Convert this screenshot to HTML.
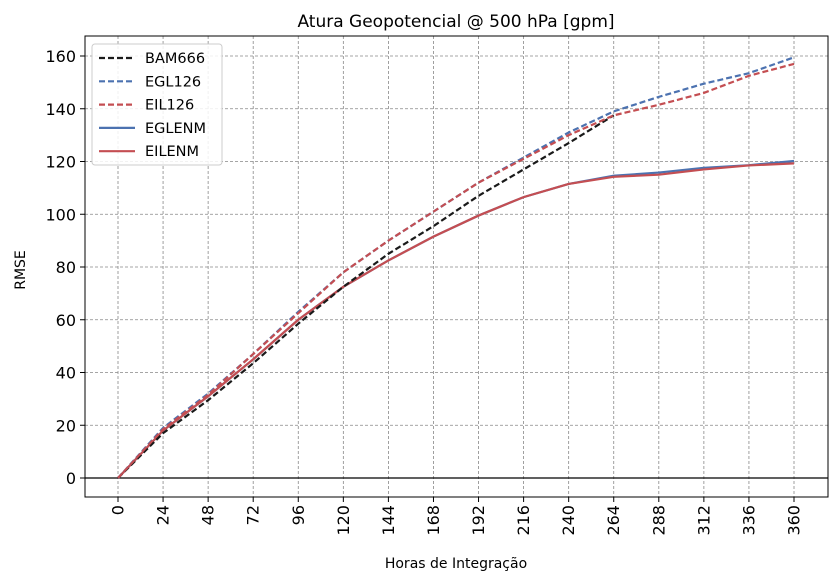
<!DOCTYPE html>
<html><head><meta charset="utf-8"><style>
body{margin:0;background:#fff;font-family:"Liberation Sans","DejaVu Sans",sans-serif}
svg text{font-family:"DejaVu Sans","Liberation Sans",sans-serif}
</style></head><body>
<svg id="c" width="839" height="582"></svg>
<script>
const hours=[0,24,48,72,96,120,144,168,192,216,240,264,288,312,336,360];
const bam666=[0,17,29.5,43.5,58.5,72.5,85,95.5,107,117,127,137.5];
const egl126=[0,19,32,47,63,78,90,101,112,121.5,131,139,144.5,149.5,153.5,159.5];
const eil126=[0,18.5,31.5,47,62.5,78,90,101,112,121,130,137.5,141.5,146,152.5,157];
const eglenm=[0,18,31,45,60,72.5,82.5,91.5,99.5,106.5,111.5,114.6,115.8,117.6,118.6,120.2];
const eilenm=[0,18,31,45,60,72.5,82.5,91.5,99.5,106.5,111.5,114.2,115,117,118.5,119.3];
const yTicks=[0,20,40,60,80,100,120,140,160];
const seriesNames=["BAM666","EGL126","EIL126","EGLENM","EILENM"];
const NS="http://www.w3.org/2000/svg";
const svg=document.getElementById('c');
const L=85,R=828,T=36,B=497;
const xs=h=>118+h*(676/360);
const ys=v=>478-v*(422/160);
function mk(t,a,p){const e=document.createElementNS(NS,t);for(const k in a)e.setAttribute(k,a[k]);(p||svg).appendChild(e);return e;}
// grid
hours.forEach(h=>{const g=mk('line',{x1:xs(h),x2:xs(h),y1:T,y2:B,stroke:'#888','stroke-width':0.8,'stroke-dasharray':'3,2'});


mk('line',{x1:xs(h),x2:xs(h),y1:B,y2:B+5,stroke:'#000'});
const t=mk('text',{x:0,y:0,'font-size':16,'text-anchor':'end','dominant-baseline':'central',transform:`translate(${xs(h)},${B+8}) rotate(-90)`});t.textContent=h;

});
yTicks.forEach(v=>{const g=mk('line',{x1:L,x2:R,y1:ys(v),y2:ys(v),stroke:'#888','stroke-width':0.8,'stroke-dasharray':'3,2'});


mk('line',{x1:L-5,x2:L,y1:ys(v),y2:ys(v),stroke:'#000'});
const t=mk('text',{x:L-9,y:ys(v)+6,'font-size':16,'text-anchor':'end'});t.textContent=v;

});
const z=mk('line',{x1:L,x2:R,y1:ys(0),y2:ys(0),stroke:'#000','stroke-width':1.3});


const fr=mk('rect',{x:L,y:T,width:R-L,height:B-T,fill:'none',stroke:'#000','stroke-width':1});


const styles=[['#1a1a1a','6,3'],['#4c72b0','6,3'],['#c44e52','6,3'],['#4c72b0',''],['#c44e52','']];
const data=[bam666,egl126,eil126,eglenm,eilenm];
const order=[3,4,0,1,2];
order.forEach(i=>{const d=data[i].map((v,j)=>xs(hours[j])+','+ys(v)).join(' ');
const p=mk('polyline',{points:d,fill:'none',stroke:styles[i][0],'stroke-width':2.2,'stroke-dasharray':styles[i][1]});

});
// legend
const lg=mk('g',{});


mk('rect',{x:92,y:44,width:130,height:121,rx:3,fill:'#fff','fill-opacity':0.85,stroke:'#ccc'},lg);
seriesNames.forEach((n,i)=>{const y=58+i*23.3;
mk('line',{x1:99,x2:135,y1:y,y2:y,stroke:styles[i][0],'stroke-width':2.2,'stroke-dasharray':styles[i][1]},lg);
const t=mk('text',{x:145,y:y+5,'font-size':14.5},lg);t.textContent=n;

});
const ti=mk('text',{x:456,y:27,'font-size':17,'text-anchor':'middle'});ti.textContent='Atura Geopotencial @ 500 hPa [gpm]';


const xt=mk('text',{x:456,y:568,'font-size':14,'text-anchor':'middle'});xt.textContent='Horas de Integração';


const yt=mk('text',{x:0,y:0,'font-size':14,'text-anchor':'middle',transform:'translate(25,270) rotate(-90)'});yt.textContent='RMSE';


</script>
</body></html>
